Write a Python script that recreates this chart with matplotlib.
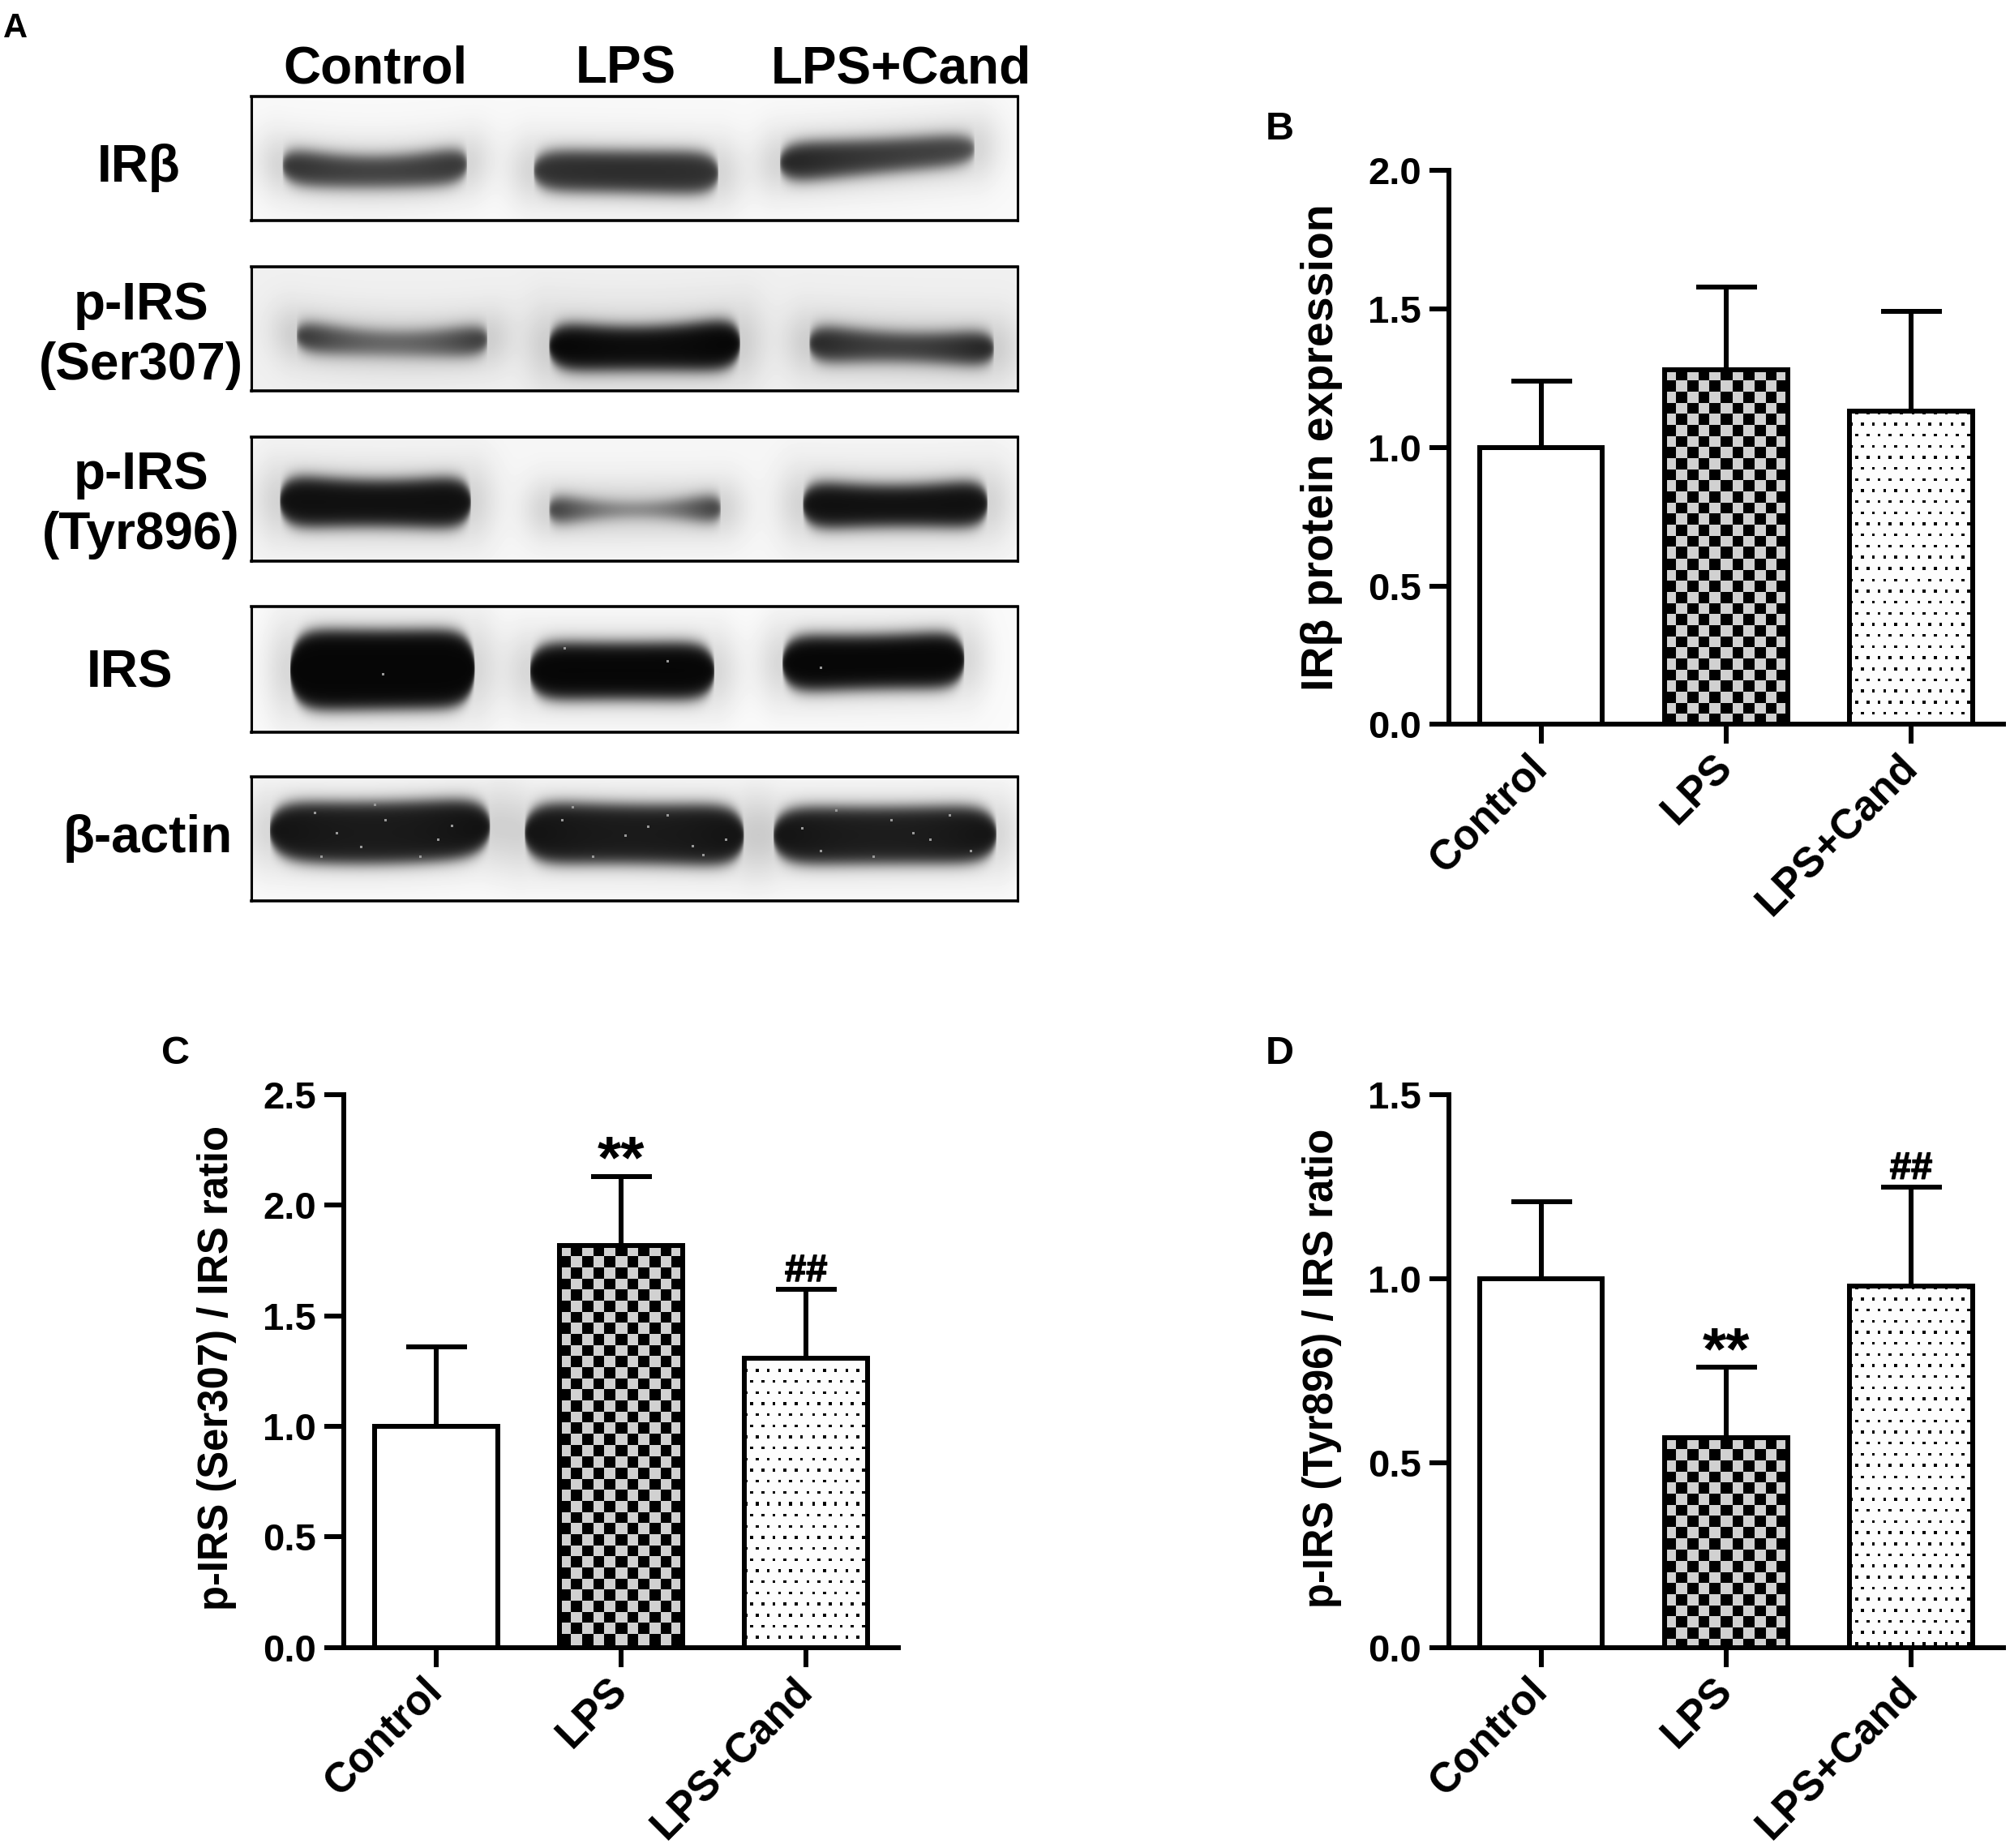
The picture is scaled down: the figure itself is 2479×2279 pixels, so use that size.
import numpy as np
import matplotlib
matplotlib.use('Agg')
import matplotlib.pyplot as plt
import matplotlib.patheffects as pe
from matplotlib.transforms import ScaledTranslation

plt.rcParams['font.family'] = ['Liberation Sans', 'DejaVu Sans']
plt.rcParams['font.weight'] = 'bold'

W, H = 2479, 2279
S = W / 1568.0  # positions below were read on the 1568 px view
LW = 6 * 72 / 100.0

groups = ['Control', 'LPS', 'LPS+Cand']

# bar values and top of error bars
irb_mean = [1.0, 1.28, 1.13]
irb_top = [1.24, 1.58, 1.49]
ser_mean = [1.0, 1.82, 1.31]
ser_top = [1.36, 2.13, 1.62]
tyr_mean = [1.0, 0.57, 0.98]
tyr_top = [1.21, 0.76, 1.25]
ser_marks = ['', '**', '##']
tyr_marks = ['', '**', '##']

irb_ticks = [0.0, 0.5, 1.0, 1.5, 2.0]
ser_ticks = [0.0, 0.5, 1.0, 1.5, 2.0, 2.5]
tyr_ticks = [0.0, 0.5, 1.0, 1.5]

# blot rows
blot_names = ['IRβ', 'p-IRS\n(Ser307)', 'p-IRS\n(Tyr896)', 'IRS', 'β-actin']
blot_tops = [75, 208, 341, 473, 606]
blot_bottoms = [172, 305, 438, 571, 703]
blot_bg = [0.975, 0.94, 0.965, 0.985, 0.985]
# one band: x0, x1, centre (left, mid, right), half height (l, m, r), darkness (l, m, r)
irb_bands = [(220, 364, (129, 134, 128), (15, 12, 15), (0.80, 0.72, 0.78)),
             (416, 560, (133, 134, 135), (16, 16, 17), (0.78, 0.80, 0.78)),
             (608, 760, (127, 122, 116), (16, 13, 12), (0.86, 0.76, 0.72))]
ser_bands = [(231, 380, (262, 268, 265), (13, 9, 13), (0.82, 0.56, 0.80)),
             (428, 577, (270, 272, 268), (20, 17, 22), (0.98, 0.95, 0.98)),
             (631, 775, (268, 271, 272), (16, 11, 15), (0.85, 0.74, 0.88))]
tyr_bands = [(218, 367, (391, 393, 392), (22, 18, 22), (0.93, 0.93, 0.93)),
             (428, 562, (398, 398, 397), (13, 5, 13), (0.80, 0.50, 0.80)),
             (626, 770, (394, 395, 393), (20, 16, 20), (0.93, 0.93, 0.93))]
irs_bands = [(226, 370, (522, 522, 521), (32, 31, 31), (0.97, 0.97, 0.97)),
             (413, 557, (523, 523, 523), (23, 22, 23), (0.97, 0.97, 0.97)),
             (610, 752, (517, 516, 514), (23, 21, 23), (0.97, 0.97, 0.97))]
actin_bands = [(210, 382, (648, 650, 645), (23, 24, 23), (0.92, 0.88, 0.93)),
               (409, 580, (650, 651, 652), (25, 23, 25), (0.92, 0.88, 0.92)),
               (603, 777, (652, 652, 651), (23, 22, 23), (0.92, 0.87, 0.92))]
all_bands = [irb_bands, ser_bands, tyr_bands, irs_bands, actin_bands]

# bright specks on the film
speck_x = [245, 262, 281, 300, 327, 352, 438, 462, 487, 520, 548, 566, 625, 652, 681, 712, 740, 757,
           250, 292, 341, 446, 505, 540, 640, 695, 725, 298, 440, 520, 640]
speck_y = [634, 650, 661, 640, 668, 644, 640, 668, 652, 636, 667, 655, 646, 632, 668, 650, 636, 664,
           668, 628, 655, 630, 645, 660, 664, 640, 655, 525, 505, 515, 520]


def fig_axes(fig, x0, y0, x1, y1):
    # x0..y1 in 1568 px view, y going down
    return fig.add_axes([x0 * S / W, 1 - y1 * S / H, (x1 - x0) * S / W, (y1 - y0) * S / H])


def draw_blot(fig, row):
    top, bottom = blot_tops[row], blot_bottoms[row]
    ax = fig_axes(fig, 196, top, 794, bottom)
    xs = np.arange(196, 794, 1 / S)
    ys = np.arange(top, bottom, 1 / S)
    xx, yy = np.meshgrid(xs, ys)
    light = np.ones(xx.shape)
    for x0, x1, yc, hh, dk in all_bands[row]:
        mid = (x0 + x1) / 2.0
        u = (xs - mid) / ((x1 - x0) / 2.0)
        # parabola through the three read values
        cen = np.polyval(np.polyfit([-1, 0, 1], yc, 2), u)
        half = np.polyval(np.polyfit([-1, 0, 1], hh, 2), u)
        amp = np.polyval(np.polyfit([-1, 0, 1], dk, 2), u)
        # rounded ends
        half = half * np.sqrt(np.clip(1 - np.abs(u) ** 8, 0, 1))
        core = 0.5 * (np.tanh((yy - cen + half) / 6.5) - np.tanh((yy - cen - half) / 6.5))
        dy = yy - cen
        out = np.clip(np.abs(xx - mid) - (x1 - x0) / 2.0, 0, None)
        glow = np.exp(-(dy / (np.max(hh) + 11.0)) ** 2) * np.exp(-(out / 20.0) ** 2)
        light = light * (1 - core * amp) * (1 - 0.14 * glow)
    img = blot_bg[row] * light
    if row >= 3:
        for sx, sy in zip(speck_x, speck_y):
            if top < sy < bottom:
                i, j = int((sy - top) * S), int((sx - 196) * S)
                img[i:i + 3, j:j + 3] = 0.6
    ax.imshow(img, cmap='gray', vmin=0, vmax=1, aspect='auto', interpolation='bilinear',
              extent=(196, 794, bottom, top))
    ax.set_xticks([])
    ax.set_yticks([])
    for sp in ax.spines.values():
        sp.set_linewidth(2.2)
    ax.spines['top'].set_linewidth(2.6)
    ax.spines['bottom'].set_linewidth(2.6)


def pattern(kind, w, h):
    # pixel pattern for a bar, w and h in output px
    cell = 13.67
    yy, xx = np.mgrid[0:h, 0:w]
    if kind == 'check':
        return np.where((np.floor(xx / cell) + np.floor(yy / cell)) % 2 == 0, 0.82, 0.0)
    row = np.floor(yy / cell)
    off = np.where(row % 2 == 0, cell / 2, 0)
    dot = ((xx + off) % cell < 3.6) & (yy % cell < 3.6)
    return np.where(dot, 0.0, 0.99)


def draw_bars(fig, box, ymax, ticks, mean, top, marks=None):
    ax = fig_axes(fig, *box)
    ax.set_xlim(0.5, 3.5)
    ax.set_ylim(0, ymax)
    xs = [1, 2, 3]
    bw = 0.665
    ax.bar(xs, mean, width=bw, facecolor='none', edgecolor='black', linewidth=LW, zorder=3)
    ax.errorbar(xs, mean, yerr=[[0, 0, 0], np.array(top) - np.array(mean)], fmt='none', ecolor='black',
                elinewidth=LW, capsize=75 / 2 * 0.72, capthick=LW, zorder=2)
    w_px = bw / 3.0 * (box[2] - box[0]) * S
    unit_px = (box[3] - box[1]) * S / ymax
    for i, kind in [(1, 'check'), (2, 'dots')]:
        h_px = int(mean[i] * unit_px)
        ax.imshow(pattern(kind, int(w_px), h_px), cmap='gray', vmin=0, vmax=1, origin='upper',
                  extent=(xs[i] - bw / 2, xs[i] + bw / 2, 0, mean[i]), aspect='auto',
                  interpolation='nearest', zorder=1)
    ax.set_xlim(0.5, 3.5)
    ax.set_ylim(0, ymax)
    ax.spines['top'].set_visible(False)
    ax.spines['right'].set_visible(False)
    ax.spines['left'].set_linewidth(LW)
    ax.spines['bottom'].set_linewidth(LW)
    ax.set_yticks(ticks)
    ax.set_yticklabels(['%.1f' % t for t in ticks], fontsize=34, fontweight='bold')
    ax.set_xticks(xs)
    ax.set_xticklabels(groups, fontsize=37, fontweight='bold', rotation=45, ha='right',
                       rotation_mode='anchor')
    ax.tick_params(axis='both', width=LW, length=17, pad=7)
    # rotated labels sit a bit further left in the original
    shift = ScaledTranslation(-17 / 100.0, 5 / 100.0, fig.dpi_scale_trans)
    for t in ax.get_xticklabels():
        t.set_transform(t.get_transform() + shift)
    if marks:
        for x, t, m in zip(xs, top, marks):
            if m == '**':
                ax.annotate(m, (x, t), xytext=(0, -12), textcoords='offset points', ha='center',
                            va='bottom', fontsize=54, fontweight='bold')
            elif m == '##':
                txt = ax.annotate(m, (x, t), xytext=(0, 0), textcoords='offset points', ha='center',
                                  va='bottom', fontsize=34, fontweight='bold')
                txt.set_path_effects([pe.withStroke(linewidth=1.0, foreground='black')])
    return ax


def label(fig, x, y, s, size, **kw):
    fig.text(x * S / W, 1 - y * S / H, s, fontsize=size, fontweight='bold',
             ha=kw.pop('ha', 'center'), va=kw.pop('va', 'center'), **kw)


fig = plt.figure(figsize=(W / 100.0, H / 100.0), dpi=100)

for r in range(5):
    draw_blot(fig, r)

for x, s in zip([293, 488, 703], groups):
    label(fig, x, 54, s, 46)
label(fig, 108, 131, blot_names[0], 46)
label(fig, 110, 262, blot_names[1], 46, linespacing=1.3)
label(fig, 110, 394, blot_names[2], 46, linespacing=1.3)
label(fig, 101, 525, blot_names[3], 46)
label(fig, 115, 654, blot_names[4], 46)

draw_bars(fig, (1130, 133, 1563, 565), 2.0, irb_ticks, irb_mean, irb_top)
draw_bars(fig, (268, 854, 701, 1285), 2.5, ser_ticks, ser_mean, ser_top, ser_marks)
draw_bars(fig, (1130, 854, 1563, 1285), 1.5, tyr_ticks, tyr_mean, tyr_top, tyr_marks)

label(fig, 1031, 349, 'IRβ protein expression', 40, rotation=90)
label(fig, 169, 1067, 'p-IRS (Ser307) / IRS ratio', 36.5, rotation=90)
label(fig, 1031, 1067, 'p-IRS (Tyr896) / IRS ratio', 36.5, rotation=90)

label(fig, 12, 22, 'A', 30)
label(fig, 998, 101, 'B', 35)
label(fig, 137, 822, 'C', 35)
label(fig, 998, 822, 'D', 35)

fig.savefig('out.png', dpi=100)
